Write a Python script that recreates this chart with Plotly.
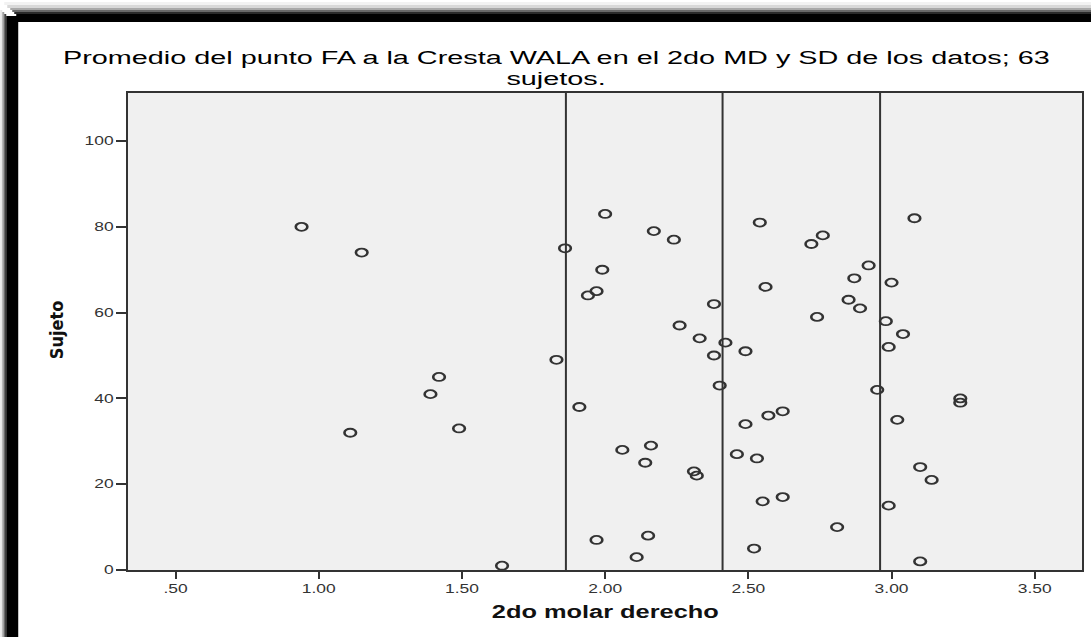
import plotly.graph_objects as go

# ---- data ----
x_vals = [0.94, 1.15, 1.11, 1.39, 1.42, 1.49, 1.64, 1.83, 1.86, 1.91,
          1.94, 1.97, 1.99, 2.00, 1.97, 2.06, 2.16, 2.14, 2.15, 2.11,
          2.17, 2.24, 2.26, 2.31, 2.32, 2.33, 2.38, 2.38, 2.40, 2.42,
          2.46, 2.49, 2.49, 2.52, 2.53, 2.54, 2.55, 2.56, 2.57, 2.62,
          2.62, 2.72, 2.74, 2.76, 2.81, 2.85, 2.87, 2.89, 2.92, 2.95,
          2.98, 2.99, 2.99, 3.00, 3.02, 3.04, 3.08, 3.10, 3.10, 3.14,
          3.24, 3.24]
y_vals = [80, 74, 32, 41, 45, 33, 1, 49, 75, 38,
          64, 65, 70, 83, 7, 28, 29, 25, 8, 3,
          79, 77, 57, 23, 22, 54, 62, 50, 43, 53,
          27, 51, 34, 5, 26, 81, 16, 66, 36, 37,
          17, 76, 59, 78, 10, 63, 68, 61, 71, 42,
          58, 52, 15, 67, 35, 55, 82, 24, 2, 21,
          40, 39]
ref_lines = [1.863, 2.41, 2.96]          # mean - SD, mean, mean + SD
x_tickvals = [0.5, 1.0, 1.5, 2.0, 2.5, 3.0, 3.5]
x_ticktext = [".50", "1.00", "1.50", "2.00", "2.50", "3.00", "3.50"]
y_tickvals = [0, 20, 40, 60, 80, 100]
title_line1 = "Promedio del punto FA a la Cresta WALA en el 2do MD y SD de los datos; 63"
title_line2 = "sujetos."
x_title = "2do molar derecho"
y_title = "Sujeto"

# ---- layout geometry (pixels) ----
W, H = 1091, 637
L, R, T, B = 128, 7, 93, 67
pw, ph = W - L - R, H - T - B


def px(x):
    return (x - L) / pw


def py(y):
    return (H - B - y) / ph


FONT = "Liberation Sans, Arial, sans-serif"
AX = "#333333"

fig = go.Figure()
fig.add_trace(go.Scatter(
    x=x_vals, y=y_vals, mode="markers",
    marker=dict(symbol="circle-open", size=8, color="#333333",
                line=dict(width=1.8, color="#333333")),
    hoverinfo="skip", showlegend=False))

shapes = []
for v in ref_lines:
    shapes.append(dict(type="line", xref="x", yref="paper", x0=v, x1=v, y0=0, y1=1,
                       line=dict(color=AX, width=2), layer="above"))

# frame (black band with soft shadow) around the chart
top_bands = [(2, 5, "#f2f2f2"), (5, 8, "#d8d8d8"), (8, 10, "#a8a8a8"),
             (10, 12, "#686868"), (12, 14, "#2a2a2a"), (14, 22, "#000000")]
for y0, y1, c in top_bands:
    shapes.append(dict(type="rect", xref="paper", yref="paper",
                       x0=px(y0 + 2), x1=px(W + 20), y0=py(y1), y1=py(y0),
                       fillcolor=c, line=dict(width=0), layer="below"))
left_bands = [(0, 2, "#e6e6e6"), (2, 4, "#a0a0a0"), (4, 6, "#404040"), (6, 18, "#000000")]
for x0, x1, c in left_bands:
    shapes.append(dict(type="rect", xref="paper", yref="paper",
                       x0=px(x0), x1=px(x1), y0=py(H + 20), y1=py(x0 + 10),
                       fillcolor=c, line=dict(width=0), layer="below"))

annotations = [
    dict(text=title_line1, x=px(557), y=py(58), xref="paper", yref="paper",
         xanchor="center", yanchor="middle", showarrow=False,
         font=dict(family=FONT, size=18, color="#000")),
    dict(text=title_line2, x=px(557), y=py(79), xref="paper", yref="paper",
         xanchor="center", yanchor="middle", showarrow=False,
         font=dict(family=FONT, size=18, color="#000")),
    dict(text=x_title, x=0.5, y=py(612), xref="paper", yref="paper",
         xanchor="center", yanchor="middle", showarrow=False,
         font=dict(family=FONT, size=17.5, color="#111", weight="bold")),
    dict(text=y_title, x=px(56), y=py(330), xref="paper", yref="paper",
         xanchor="center", yanchor="middle", showarrow=False, textangle=-90,
         font=dict(family="Liberation Sans Narrow, DejaVu Sans Condensed, Arial Narrow, sans-serif",
                   size=18, color="#111", weight="bold")),
]

fig.update_layout(
    width=W, height=H,
    margin=dict(l=L, r=R, t=T, b=B),
    paper_bgcolor="white", plot_bgcolor="#f0f0f0",
    shapes=shapes, annotations=annotations,
    xaxis=dict(range=[0.334, 3.665], tickvals=x_tickvals, ticktext=x_ticktext,
               showgrid=False, zeroline=False, showline=True, mirror=True,
               linecolor=AX, linewidth=2, ticks="outside", ticklen=7, tickwidth=2,
               tickcolor=AX, tickfont=dict(family=FONT, size=12, color=AX)),
    yaxis=dict(range=[0, 111.2], tickvals=y_tickvals,
               showgrid=False, zeroline=False, showline=True, mirror=True,
               linecolor=AX, linewidth=2, ticks="outside", ticklen=10, tickwidth=2,
               tickcolor=AX, tickfont=dict(family=FONT, size=12, color=AX)),
)

# the reference picture is stretched horizontally: widen texts and markers the same way
post = """
try {
  var gd = document.getElementById('{plot_id}');
  gd.querySelectorAll('text').forEach(function(t){
    var s = t.textContent;
    if (s === 'Sujeto' || t.getAttribute('data-st')) return;
    var k = 1.45;
    if (s.indexOf('Promedio') === 0 || s === 'sujetos.') k = 1.6;
    var w = t.getComputedTextLength();
    if (w > 0) {
      t.setAttribute('textLength', (w * k).toFixed(2));
      t.setAttribute('lengthAdjust', 'spacingAndGlyphs');
      t.setAttribute('data-st', '1');
    }
  });
  gd.querySelectorAll('.scatterlayer path.point').forEach(function(p){
    var tr = p.getAttribute('transform') || '';
    if (tr.indexOf('scale') < 0) p.setAttribute('transform', tr + ' scale(1.45,1)');
  });
} catch (e) {}
"""

fig.write_html("out.html", config={"displayModeBar": False}, post_script=post)
